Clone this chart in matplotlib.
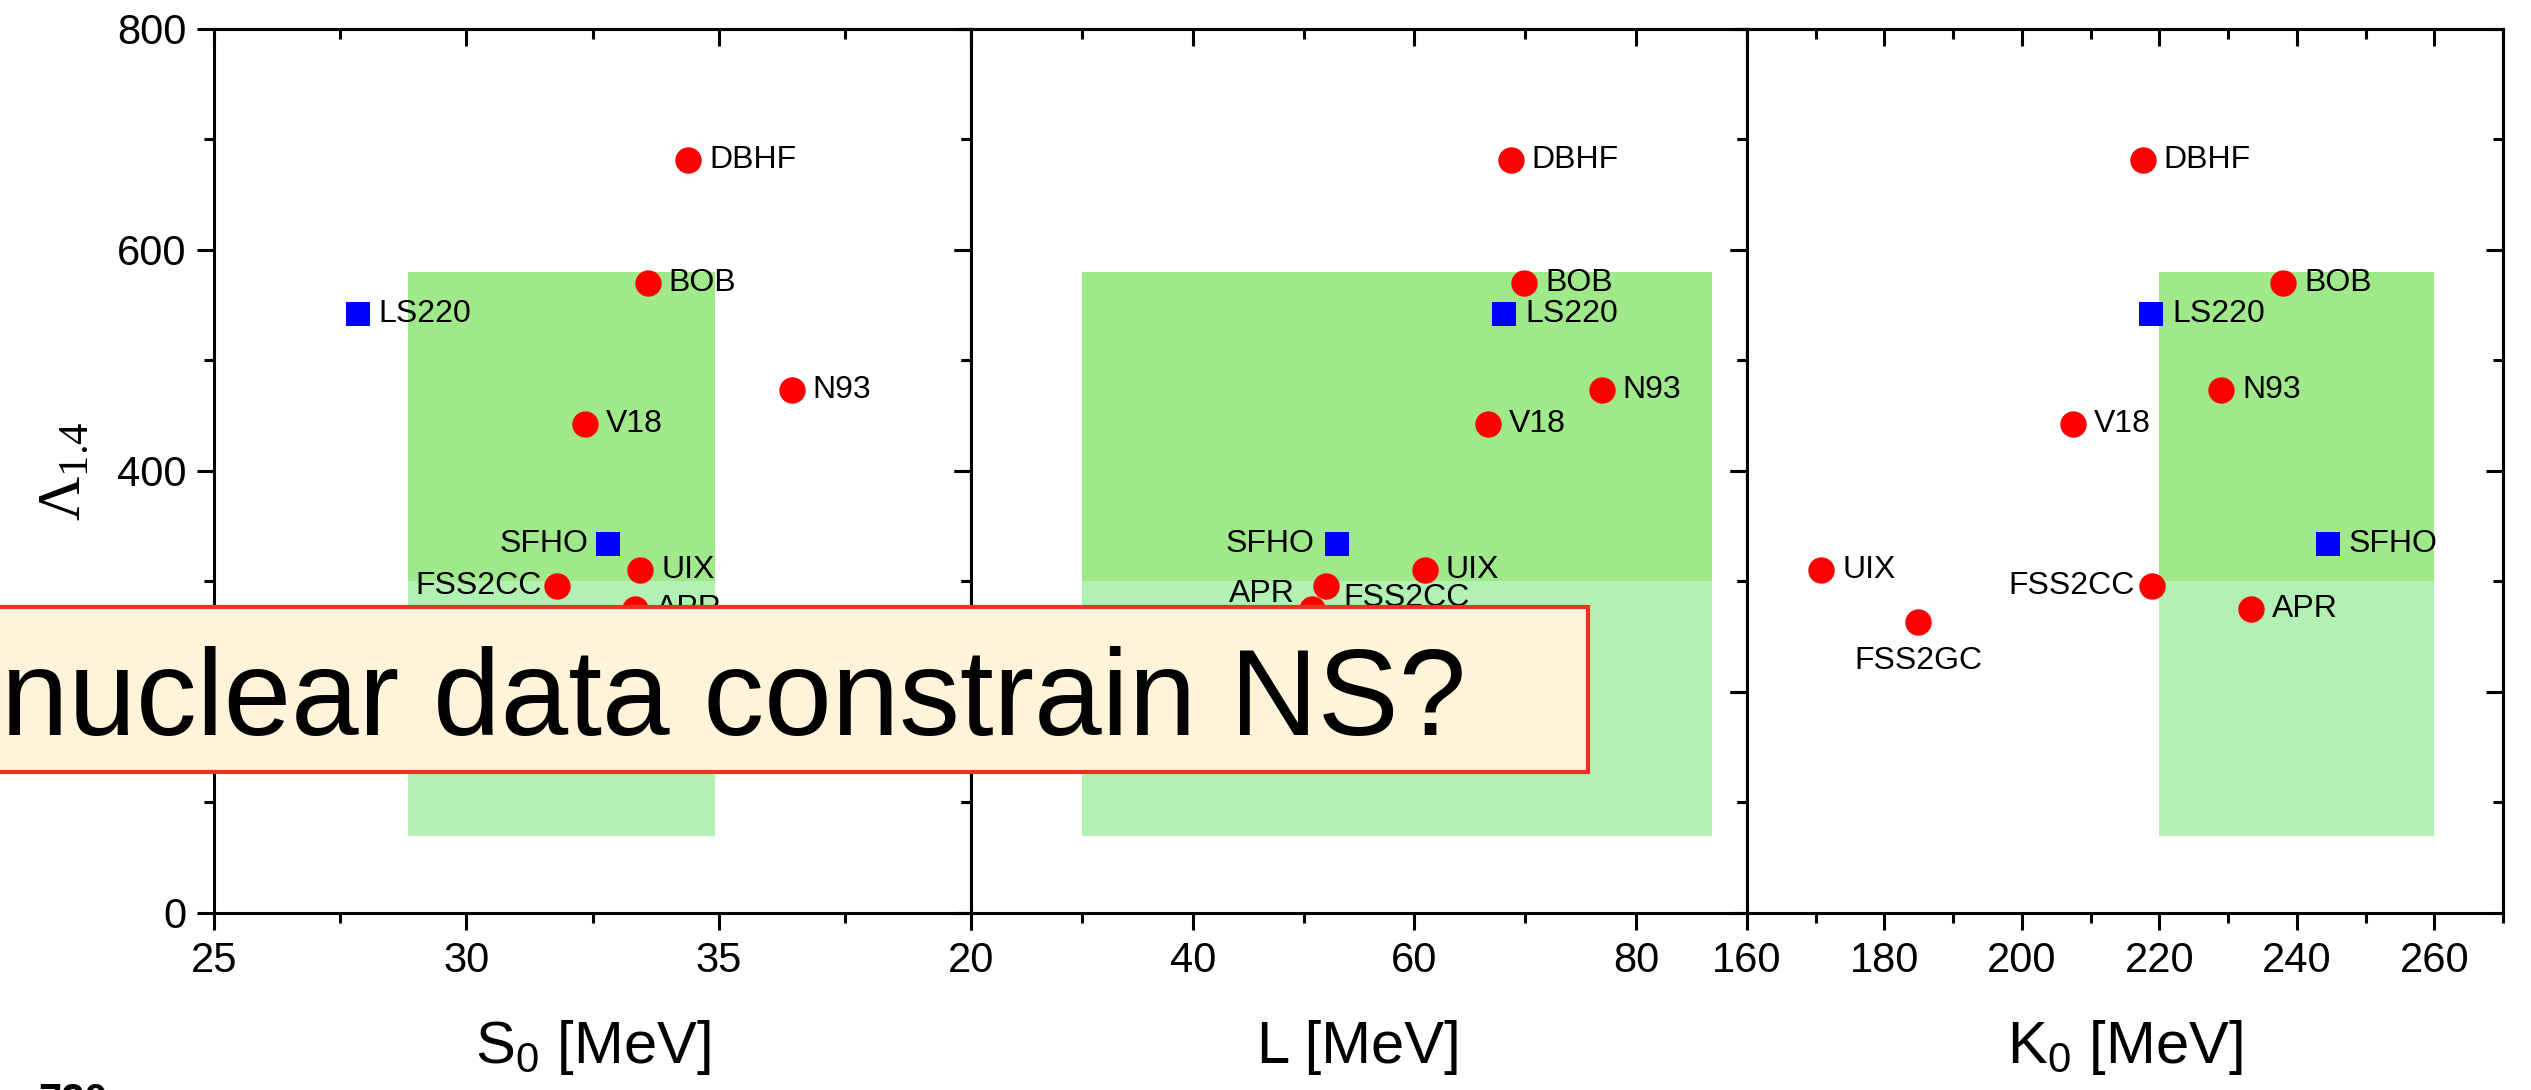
import numpy as np
import matplotlib.pyplot as plt
from matplotlib.patches import Rectangle
from matplotlib.ticker import MultipleLocator

plt.rcParams['font.family'] = 'Liberation Sans'
plt.rcParams['mathtext.fontset'] = 'custom'
plt.rcParams['mathtext.rm'] = 'Liberation Sans'
plt.rcParams['mathtext.it'] = 'Liberation Sans:italic'

# Dados
eos_names = ['DBHF', 'BOB', 'LS220', 'N93', 'V18', 'SFHO', 'UIX', 'FSS2CC', 'APR', 'FSS2GC']
lambda14 = [681, 570, 542, 473, 442, 334, 310, 296, 275, 263]
is_rmf = [False, False, True, False, False, True, False, False, False, False]

s0_vals = [34.4, 33.6, 27.85, 36.45, 32.35, 32.8, 33.45, 31.8, 33.35, np.nan]
l_vals = [68.7, 69.9, 68.1, 76.9, 66.6, 53.0, 60.95, 52.0, 50.8, np.nan]
k0_vals = [217.6, 238.0, 218.8, 229.0, 207.4, 244.5, 170.8, 219.0, 233.4, 184.9]

s0_band = [28.85, 34.93]
l_band = [30.0, 86.8]
k0_band = [220.0, 260.0]
lam_band_low = [70, 300]
lam_band_high = [300, 580]

y_ticks = [0, 200, 400, 600, 800]
y_ticklabels = ['0', '', '400', '600', '800']  # o 200 fica escondido atras da caixa

# Configuracao dos paineis
panels = [
    dict(x=s0_vals, band=s0_band, xlim=(25, 40), major=[25, 30, 35, 40],
         labels=['25', '30', '35', ''], minor=2.5, xlabel='S$\\mathregular{_0}$ [MeV]'),
    dict(x=l_vals, band=l_band, xlim=(20, 90), major=[20, 40, 60, 80],
         labels=['20', '40', '60', '80'], minor=10, xlabel='L [MeV]'),
    dict(x=k0_vals, band=k0_band, xlim=(160, 270), major=[160, 180, 200, 220, 240, 260],
         labels=['160', '180', '200', '220', '240', '260'], minor=10,
         xlabel='K$\\mathregular{_0}$ [MeV]'),
]

# posicao dos rotulos (offset em pontos)
label_pos = [
    {'SFHO': (-14, 0, 'right', 'center'), 'FSS2CC': (-11, 0, 'right', 'center')},
    {'SFHO': (-16, 0, 'right', 'center'), 'APR': (-13, 11, 'right', 'center'),
     'FSS2CC': (13, -9, 'left', 'center')},
    {'FSS2CC': (-13, 0, 'right', 'center'), 'FSS2GC': (0, -28, 'center', 'center')},
]

W, H = 2531, 1090
edges = [214, 971, 1747, 2503]
y_bot, y_top = 913, 28.7
lw = 2.2

fig = plt.figure(figsize=(W / 100, H / 100), dpi=100)

for i, p in enumerate(panels):
    ax = fig.add_axes([edges[i] / W, 1 - y_bot / H, (edges[i + 1] - edges[i]) / W, (y_bot - y_top) / H])
    ax.set_xlim(p['xlim'])
    ax.set_ylim(0, 800)

    # faixas de restricao
    b0, b1 = p['band']
    ax.add_patch(Rectangle((b0, lam_band_low[0]), b1 - b0, lam_band_low[1] - lam_band_low[0],
                           facecolor='#b2f0b3', edgecolor='none', zorder=1))
    ax.add_patch(Rectangle((b0, lam_band_high[0]), b1 - b0, lam_band_high[1] - lam_band_high[0],
                           facecolor='#9fe98b', edgecolor='none', zorder=1))

    for name, xv, yv, sq in zip(eos_names, p['x'], lambda14, is_rmf):
        if np.isnan(xv):
            continue
        if sq:
            ax.plot(xv, yv, 's', ms=17, color='#0000ff', mew=0, zorder=3)
        else:
            ax.plot(xv, yv, 'o', ms=19, color='#ff0000', mew=0, zorder=3)
        dx, dy, ha, va = label_pos[i].get(name, (15, 0, 'left', 'center'))
        ax.annotate(name, (xv, yv), xytext=(dx, dy), textcoords='offset points',
                    ha=ha, va=va, fontsize=23, zorder=4)

    ax.set_xticks(p['major'])
    ax.set_xticklabels(p['labels'])
    ax.xaxis.set_minor_locator(MultipleLocator(p['minor']))
    ax.set_yticks(y_ticks)
    ax.set_yticklabels(y_ticklabels)
    ax.yaxis.set_minor_locator(MultipleLocator(100))
    ax.tick_params(which='both', direction='out', width=lw, labelsize=30, pad=8,
                   top=False, right=False)
    ax.tick_params(which='major', length=12)
    ax.tick_params(which='minor', length=7)
    if i > 0:
        ax.tick_params(labelleft=False)
    for s in ax.spines.values():
        s.set_linewidth(lw)

    # ticks espelhados para dentro (topo e direita)
    top = ax.secondary_xaxis('top')
    top.set_xticks(p['major'])
    top.xaxis.set_minor_locator(MultipleLocator(p['minor']))
    top.tick_params(which='both', direction='in', width=lw, labeltop=False)
    top.tick_params(which='major', length=12)
    top.tick_params(which='minor', length=7)
    top.spines['top'].set_linewidth(lw)
    right = ax.secondary_yaxis('right')
    right.set_yticks(y_ticks)
    right.yaxis.set_minor_locator(MultipleLocator(100))
    right.tick_params(which='both', direction='in', width=lw, labelright=False)
    right.tick_params(which='major', length=12)
    right.tick_params(which='minor', length=7)
    right.spines['right'].set_linewidth(lw)

    ax.set_xlabel(p['xlabel'], fontsize=43, va='baseline')
    ax.xaxis.set_label_coords(0.5, -150 / (y_bot - y_top))

    if i == 0:
        ax.set_ylabel('Λ$\\mathregular{_{1.4}}$', fontsize=44, family='Liberation Serif',
                      va='center', ha='center')
        ax.yaxis.set_label_coords((65 - 214) / (edges[1] - edges[0]), 0.5)

# caixa de titulo sobreposta
box_l, box_r, box_t, box_b = -10, 1588, 607, 772
fig.patches.append(Rectangle((box_l / W, 1 - box_b / H), (box_r - box_l) / W, (box_b - box_t) / H,
                             transform=fig.transFigure, facecolor='#fff3da',
                             edgecolor='#e8341c', linewidth=3, zorder=10))
fig.text(1 / W, 1 - 735 / H, 'nuclear data constrain NS?', fontsize=87.5, ha='left',
         va='baseline', zorder=11)

# fragmento no canto inferior
fig.text(38 / W, 1 - 1082 / H, '720', fontsize=30, fontweight='bold', va='top', ha='left')

fig.savefig('out.png', dpi=100)
